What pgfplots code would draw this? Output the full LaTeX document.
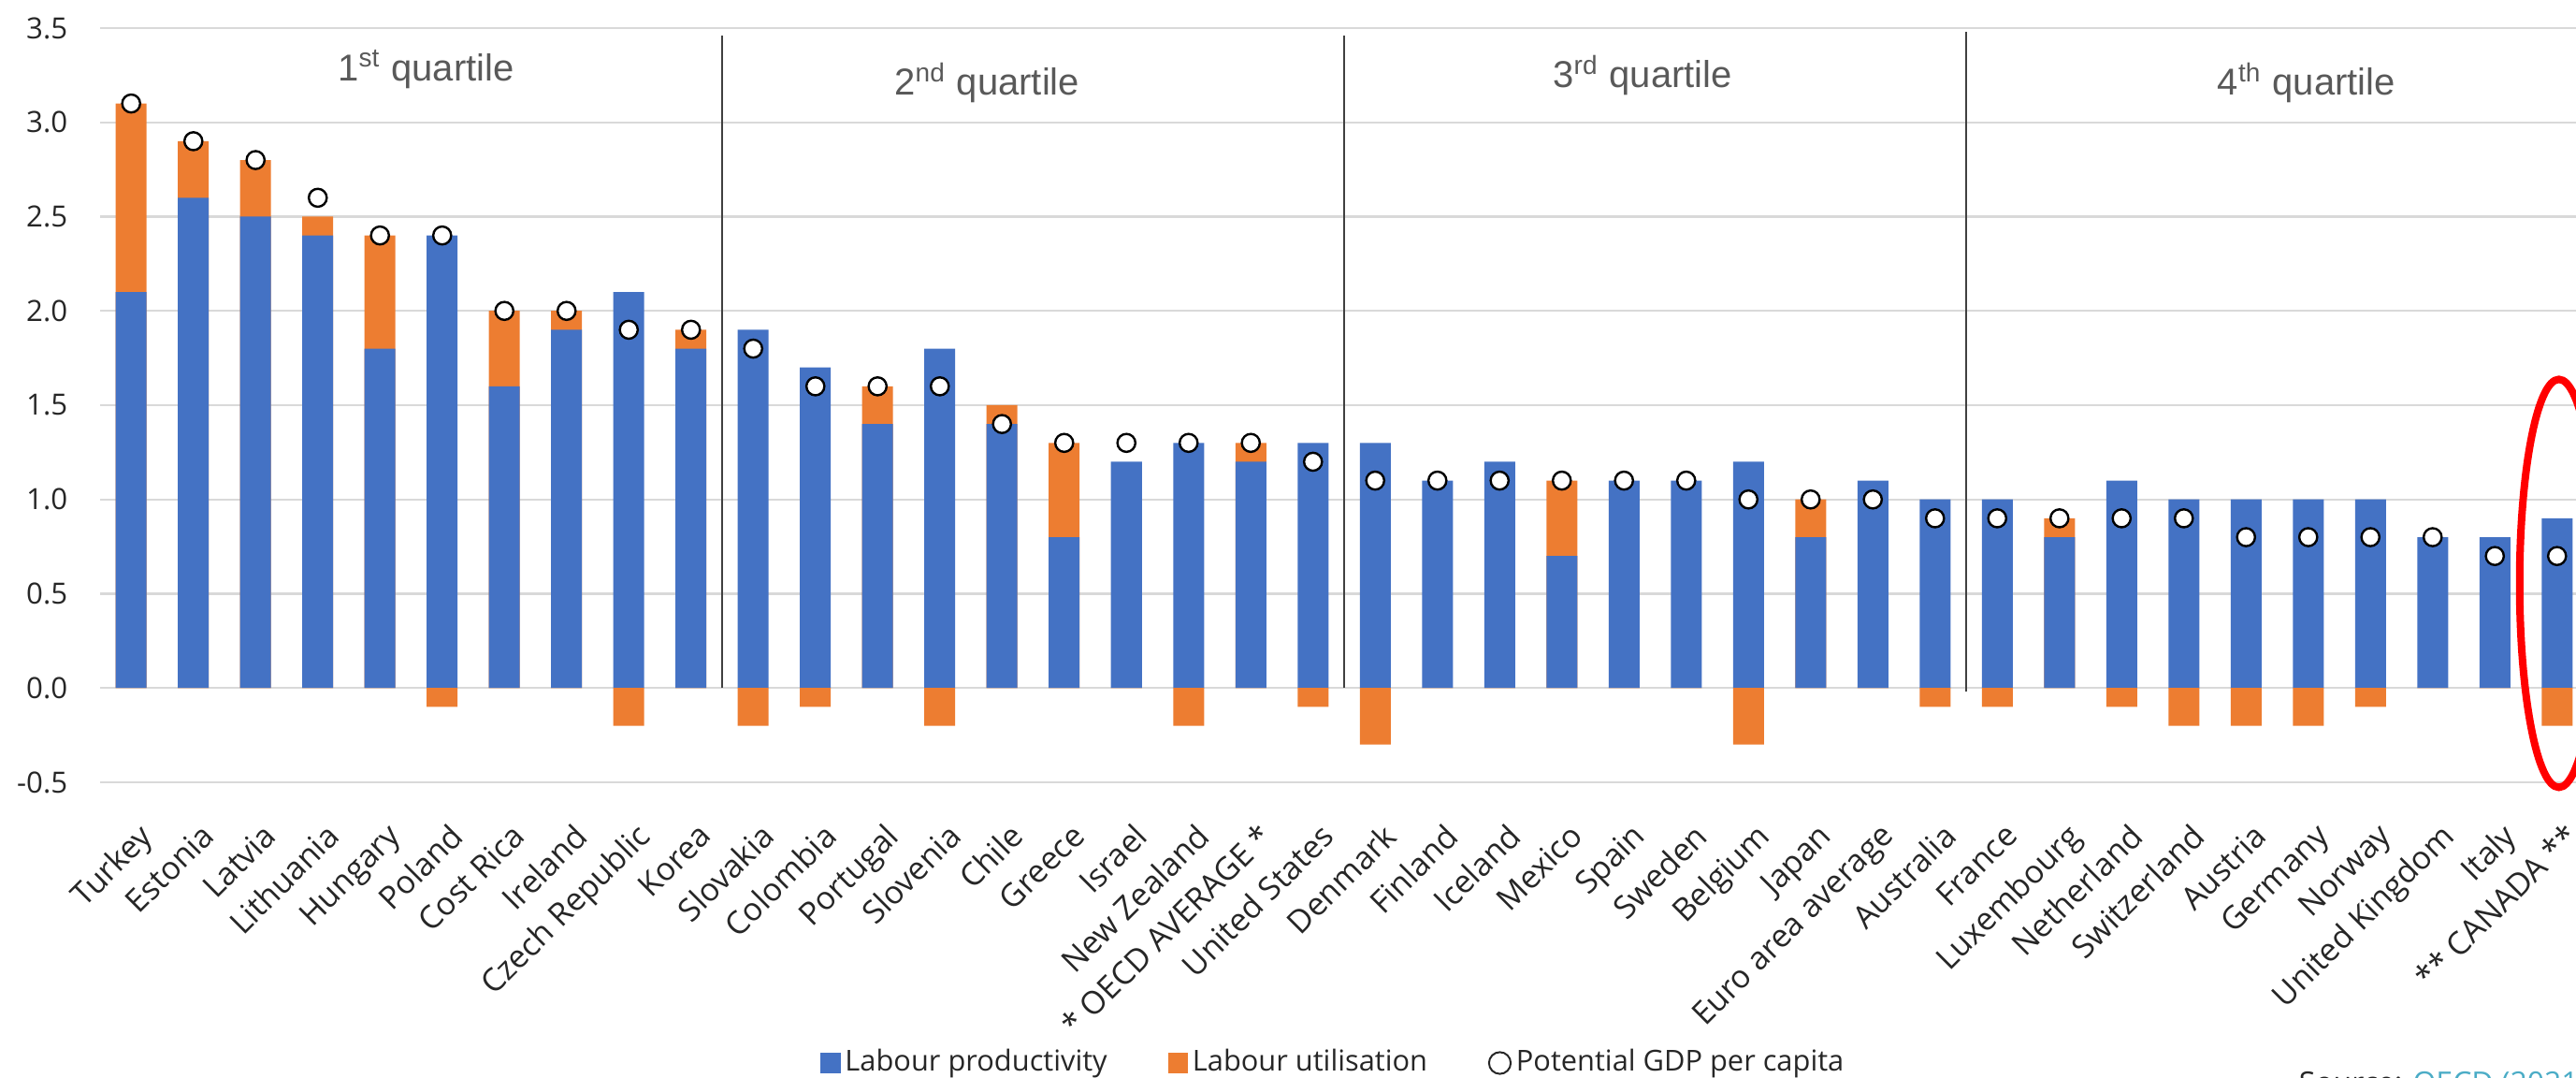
\documentclass[border=0pt]{standalone}
\usepackage{pgfplots}
\pgfplotsset{compat=1.18}
\usepackage{pgfplotstable}
\usepackage{fontspec}
\setmainfont{Open Sans}
\newfontfamily\arialfont{Liberation Sans}
\definecolor{lpblue}{HTML}{4472C4}
\definecolor{luorange}{HTML}{ED7D31}
\definecolor{gridgrey}{HTML}{D9D9D9}
\definecolor{txt}{HTML}{262626}
\definecolor{qgrey}{HTML}{595959}
\definecolor{srcblue}{HTML}{4BACC6}

\pgfplotstableread{
x lp lu gdp
0 2.1 1.0 3.1
1 2.6 0.3 2.9
2 2.5 0.3 2.8
3 2.4 0.1 2.6
4 1.8 0.6 2.4
5 2.4 -0.1 2.4
6 1.6 0.4 2.0
7 1.9 0.1 2.0
8 2.1 -0.2 1.9
9 1.8 0.1 1.9
10 1.9 -0.2 1.8
11 1.7 -0.1 1.6
12 1.4 0.2 1.6
13 1.8 -0.2 1.6
14 1.4 0.1 1.4
15 0.8 0.5 1.3
16 1.2 0.0 1.3
17 1.3 -0.2 1.3
18 1.2 0.1 1.3
19 1.3 -0.1 1.2
20 1.3 -0.3 1.1
21 1.1 0.0 1.1
22 1.2 0.0 1.1
23 0.7 0.4 1.1
24 1.1 0.0 1.1
25 1.1 0.0 1.1
26 1.2 -0.3 1.0
27 0.8 0.2 1.0
28 1.1 0.0 1.0
29 1.0 -0.1 0.9
30 1.0 -0.1 0.9
31 0.8 0.1 0.9
32 1.1 -0.1 0.9
33 1.0 -0.2 0.9
34 1.0 -0.2 0.8
35 1.0 -0.2 0.8
36 1.0 -0.1 0.8
37 0.8 0.0 0.8
38 0.8 0.0 0.7
39 0.9 -0.2 0.7
}\data

\begin{document}
\begin{tikzpicture}
\begin{axis}[
  at={(0,0)}, anchor=south west,
  scale only axis, width=665pt, height=201.5pt,
  xmin=-0.5, xmax=39.5, ymin=-0.5, ymax=3.5,
  clip=false,
  axis line style={draw=none},
  major tick length=0pt,
  ytick={-0.5,0,0.5,1,1.5,2,2.5,3,3.5},
  ymajorgrids, grid style={gridgrey, line width=0.6pt},
  xtick={0,...,39},
  xticklabels={Turkey, Estonia, Latvia, Lithuania, Hungary, Poland, Cost Rica, Ireland, Czech Republic, Korea, Slovakia, Colombia, Portugal, Slovenia, Chile, Greece, Israel, New Zealand, {* OECD AVERAGE *}, United States, Denmark, Finland, Iceland, Mexico, Spain, Sweden, Belgium, Japan, Euro area average, Australia, France, Luxembourg, Netherland, Switzerland, Austria, Germany, Norway, United Kingdom, Italy, {** CANADA **}},
  x tick label style={xshift=1.6pt, yshift=-10.25pt, rotate=45, anchor=north east, inner sep=0pt, font=\fontsize{8.5}{10}\selectfont, text=txt},
  y tick label style={anchor=east, inner sep=0pt, xshift=-8.5pt, font=\fontsize{7.8}{9}\selectfont, text=txt},
  yticklabel={\pgfmathprintnumber[fixed, fixed zerofill, precision=1, assume math mode=true]{\tick}},
  legend columns=3,
  legend style={at={(axis description cs:0.5,0)}, anchor=center, xshift=-2.6pt, yshift=-75pt, draw=none, fill=none, font=\fontsize{7.7}{9}\selectfont, text=txt, nodes={inner sep=1.2pt},
    /tikz/every even column/.append style={column sep=15pt}},
]
\addplot[ybar, bar width=8.25pt, bar shift=0pt, fill=luorange, draw=none, forget plot]
  table[x=x, y expr={\thisrow{lu}>0 ? \thisrow{lp}+\thisrow{lu} : 0}] {\data};
\addplot[ybar, bar width=8.25pt, bar shift=0pt, fill=lpblue, draw=none, forget plot]
  table[x=x, y=lp] {\data};
\addplot[ybar, bar width=8.25pt, bar shift=0pt, fill=luorange, draw=none, forget plot]
  table[x=x, y expr={min(\thisrow{lu},0)}] {\data};
\addplot[only marks, mark=*, mark size=2.4pt, mark options={fill=white, draw=black, line width=0.6pt}, forget plot]
  table[x=x, y=gdp] {\data};

\addlegendimage{legend image code/.code={\fill[lpblue] (0pt,-2.5pt) rectangle (5pt,2.5pt);}}
\addlegendentry{Labour productivity}
\addlegendimage{legend image code/.code={\fill[luorange] (0pt,-2.5pt) rectangle (5pt,2.5pt);}}
\addlegendentry{Labour utilisation}
\addlegendimage{legend image code/.code={\draw[txt, line width=0.5pt] (3pt,0pt) circle (2.9pt);}}
\addlegendentry{Potential GDP per capita}

\draw[black!75, line width=0.4pt] (axis cs:9.5,0) -- (axis cs:9.5,3.46);
\draw[black!75, line width=0.4pt] (axis cs:19.5,0) -- (axis cs:19.5,3.46);
\draw[black!75, line width=0.4pt] (axis cs:29.5,-0.02) -- (axis cs:29.5,3.48);

\node[font=\arialfont\fontsize{10}{12}\selectfont, text=qgrey] at (axis cs:4.74,3.28) {1\textsuperscript{st} quartile};
\node[font=\arialfont\fontsize{10}{12}\selectfont, text=qgrey] at (axis cs:13.76,3.21) {2\textsuperscript{nd} quartile};
\node[font=\arialfont\fontsize{10}{12}\selectfont, text=qgrey] at (axis cs:24.3,3.25) {3\textsuperscript{rd} quartile};
\node[font=\arialfont\fontsize{10}{12}\selectfont, text=qgrey] at (axis cs:34.97,3.21) {4\textsuperscript{th} quartile};

\draw[red, line width=2pt] (axis cs:39.03,0.555) ellipse [x radius=10.5pt, y radius=54.5pt];
\end{axis}
\node[anchor=north west, font=\fontsize{8}{9}\selectfont, text=txt, inner sep=0pt] at (587.5pt,-77.25pt) {Source: \textcolor{srcblue}{OECD (2021)}};
\pgfresetboundingbox
\useasboundingbox (-26.75pt,-79pt) rectangle (661.75pt,209pt);
\end{tikzpicture}
\end{document}
